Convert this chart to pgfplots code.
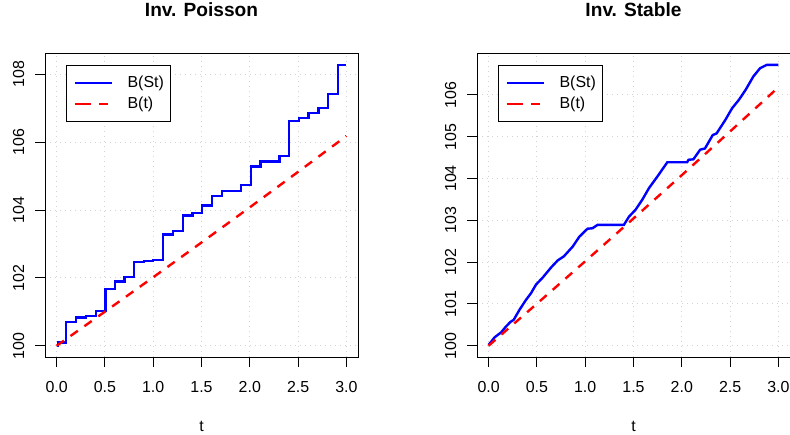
\documentclass[border=0pt]{standalone}
\usepackage{fontspec}
\setmainfont{Liberation Sans}
\usepackage{pgfplots}
\pgfplotsset{compat=1.18}

\definecolor{rblue}{RGB}{0,0,255}
\definecolor{rred}{RGB}{255,0,0}

\pgfplotsset{
  rpanel/.style={
    scale only axis, width=313bp, height=303bp,
    xmin=-0.12, xmax=3.12,
    axis line style={line width=1bp},
    tick align=outside, tick pos=left,
    major tick length=9.6bp,
    tick style={black, line width=1bp},
    xtick={0,0.5,1,1.5,2,2.5,3},
    grid=major,
    grid style={gray!35, line width=1bp, dash pattern=on 1bp off 4bp},
    /pgf/number format/assume math mode=true,
    xticklabel style={/pgf/number format/fixed, /pgf/number format/fixed zerofill,
      /pgf/number format/precision=1, anchor=north, inner sep=0pt},
    xticklabel shift=15bp,
    yticklabel style={rotate=90, anchor=south, inner sep=0pt},
    yticklabel shift=11bp,
    title style={font=\bfseries\fontsize{19.2}{23}\selectfont,
      at={(axis description cs:0.5,1)}, anchor=base, yshift=31.3bp},
    xlabel style={at={(axis description cs:0.5,0)}, anchor=base, yshift=-74bp},
    xlabel={t},
    legend style={at={(axis description cs:0,1)}, xshift=21bp, yshift=-11bp,
      anchor=north west, draw=black, line width=1bp,
      inner xsep=7bp, inner ysep=10.5bp, row sep=7bp,
      nodes={inner sep=0pt},
      /tikz/every odd column/.append style={column sep=14bp}},
    legend cell align=left,
    legend image code/.code={\path (0bp,0bp) -- (7.7bp,0bp);
      \draw[##1] (7.7bp,0bp) -- (37.7bp,0bp);},
    bst/.style={rblue, line width=2.4bp},
    bt/.style={rred, line width=2.4bp, dash pattern=on 9bp off 8bp},
  }
}

\begin{document}
\fontsize{16}{19.2}\selectfont
\begin{tikzpicture}
\useasboundingbox (0,0) rectangle (790bp,435bp);

\begin{axis}[rpanel, at={(45bp,78bp)}, anchor=south west,
  title={Inv. Poisson},
  ymin=99.67, ymax=108.6, ytick={100,102,104,106,108}]
\addplot[bst, const plot] coordinates {
(0.000,100.00) (0.015,100.10) (0.097,100.70) (0.200,100.83) (0.307,100.88)
(0.407,101.03) (0.507,101.68) (0.607,101.90) (0.703,102.02) (0.803,102.47)
(0.907,102.50) (1.000,102.53) (1.100,103.28) (1.207,103.38) (1.307,103.84)
(1.407,103.92) (1.507,104.13) (1.607,104.42) (1.710,104.56) (1.910,104.74)
(2.010,105.28) (2.110,105.43) (2.307,105.60) (2.407,106.63) (2.507,106.71)
(2.607,106.86) (2.710,107.00) (2.810,107.42) (2.910,108.27) (3.000,108.27)
};
\addlegendentry{B(St)}
\addplot[bt] coordinates {
(0,100) (0.5,101.005) (1,102.020) (1.5,103.045) (2,104.081) (2.5,105.127) (3,106.184)
};
\addlegendentry{B(t)}
\end{axis}

\begin{axis}[rpanel, at={(477bp,78bp)}, anchor=south west,
  title={Inv. Stable},
  ymin=99.73, ymax=106.98, ytick={100,101,102,103,104,105,106}]
\addplot[bst] coordinates {
(0.000,100.02) (0.062,100.20) (0.130,100.32) (0.180,100.46) (0.227,100.57)
(0.260,100.62) (0.320,100.86) (0.388,101.10) (0.440,101.26) (0.490,101.46)
(0.560,101.63) (0.646,101.87) (0.715,102.04) (0.780,102.14) (0.870,102.37)
(0.940,102.61) (1.024,102.80) (1.075,102.81) (1.127,102.89) (1.400,102.89)
(1.454,103.09) (1.520,103.25) (1.590,103.49) (1.660,103.77) (1.760,104.09)
(1.850,104.39) (2.055,104.39) (2.070,104.45) (2.120,104.46) (2.190,104.69)
(2.240,104.72) (2.320,105.04) (2.360,105.08) (2.450,105.40) (2.520,105.68)
(2.590,105.88) (2.660,106.12) (2.740,106.44) (2.810,106.64) (2.880,106.72)
(3.000,106.72)
};
\addlegendentry{B(St)}
\addplot[bt] coordinates {
(0,100) (0.5,101.005) (1,102.020) (1.5,103.045) (2,104.081) (2.5,105.127) (3,106.184)
};
\addlegendentry{B(t)}
\end{axis}
\end{tikzpicture}
\end{document}
